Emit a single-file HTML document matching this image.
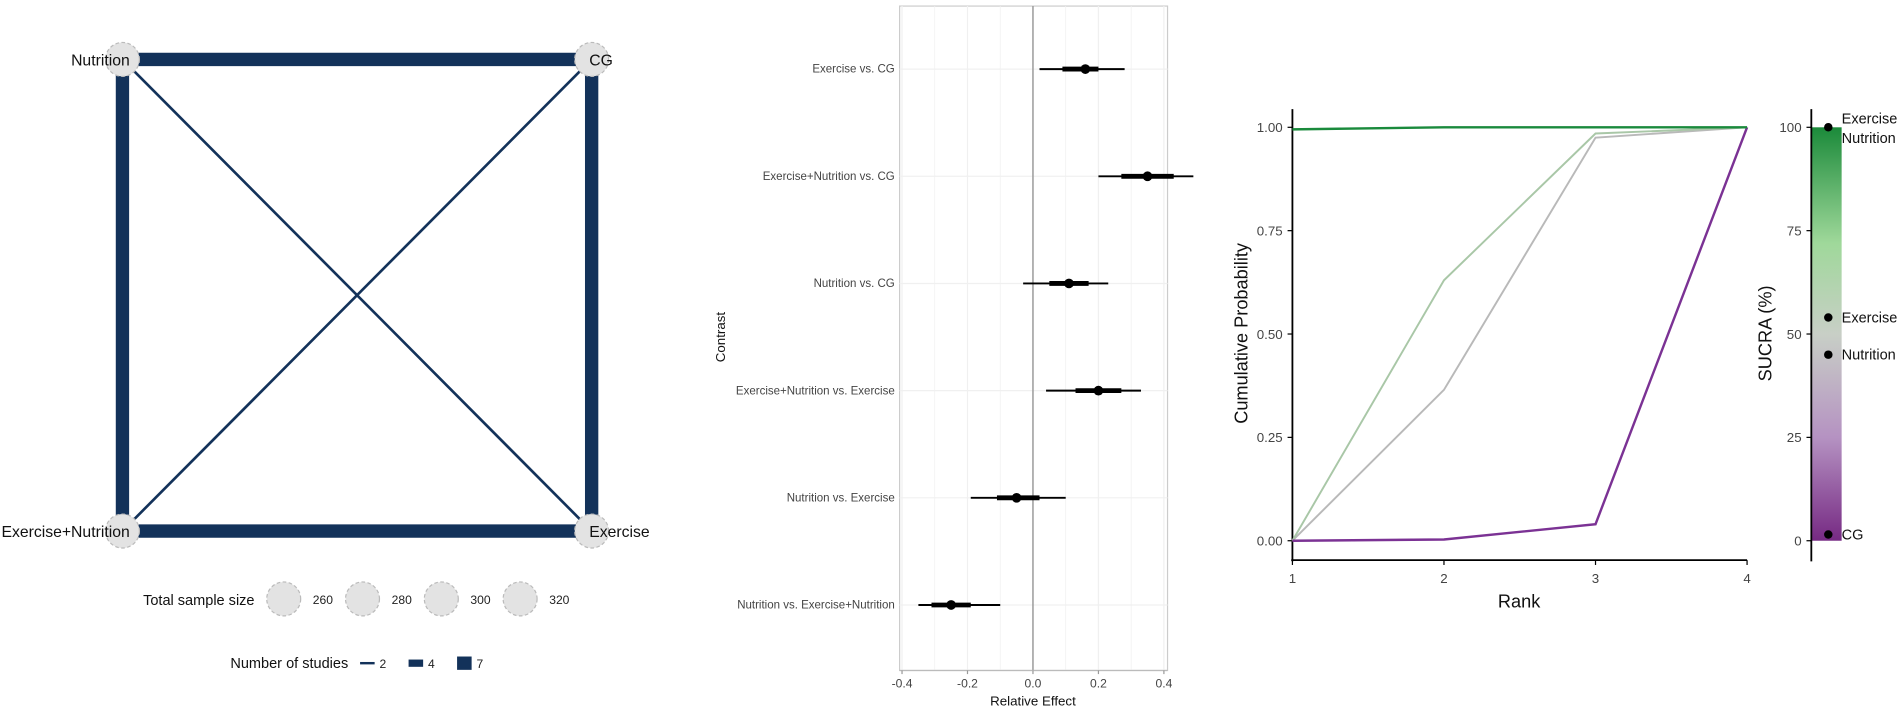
<!DOCTYPE html>
<html><head><meta charset="utf-8"><style>
body{margin:0;background:#fff;width:1901px;height:709px;overflow:hidden;font-family:"Liberation Sans",sans-serif}
svg{display:block}
</style></head><body>
<svg id="s" width="1901" height="709" xmlns="http://www.w3.org/2000/svg">
<defs>
<linearGradient id="sg" x1="0" y1="1" x2="0" y2="0">
<stop offset="0" stop-color="#762a83"/><stop offset="0.25" stop-color="#b592c2"/><stop offset="0.5" stop-color="#c8cfc6"/><stop offset="0.72" stop-color="#9fd89a"/><stop offset="1" stop-color="#1b8a3a"/>
</linearGradient>
</defs>
<g transform="scale(1.2124)">
<g id="net"></g>
<g id="forest"></g>
<g id="rank"></g>
</g>
</svg>
<script>
const NS='http://www.w3.org/2000/svg';
function mk(p,t,a,txt){const e=document.createElementNS(NS,t);for(const k in a)e.setAttribute(k,a[k]);if(txt!==undefined)e.textContent=txt;p.appendChild(e);return e;}

// ---------- Network data ----------
const nodeNames=['Nutrition','CG','Exercise+Nutrition','Exercise'];
const edgeFrom=[0,0,0,1,1,2];
const edgeTo=[1,2,3,2,3,3];
const edgeStudies=[7,7,2,2,7,7];
const net=document.getElementById('net');
const npos=[[101,49],[488,49],[101,438],[488,438]];
const sw=n=>n>=7?11:(n>=4?6:2.2);
for(let i=0;i<edgeFrom.length;i++){
  const a=npos[edgeFrom[i]],b=npos[edgeTo[i]];
  const l=mk(net,'line',{x1:a[0],y1:a[1],x2:b[0],y2:b[1],stroke:'#13325a','stroke-width':sw(edgeStudies[i])});
  
  
}
for(let i=0;i<4;i++){
  const c=mk(net,'circle',{cx:npos[i][0],cy:npos[i][1],r:14,fill:'#e3e3e3',stroke:'#bbb','stroke-dasharray':'3 2'});
  
  
  const right=i%2===1;
  const t=mk(net,'text',{x:right?npos[i][0]-2:npos[i][0]+6,y:npos[i][1]+5,'font-size':13,'text-anchor':right?'start':'end',fill:'#111'},nodeNames[i]);
  
  
}
mk(net,'text',{x:118,y:499,'font-size':12,fill:'#111',},'Total sample size');
const sizeLabels=['260','280','300','320'];
sizeLabels.forEach((s,i)=>{const x=234+i*65;
  mk(net,'circle',{cx:x,cy:494,r:14,fill:'#e3e3e3',stroke:'#bbb','stroke-dasharray':'3 2',});
  mk(net,'text',{x:x+24,y:498,'font-size':10,fill:'#222',},s);});
mk(net,'text',{x:190,y:551,'font-size':12,fill:'#111',},'Number of studies');
const stLabels=['2','4','7'];const stW=[2,6,11];
stLabels.forEach((s,i)=>{const x=297+i*40;
  mk(net,'line',{x1:x,y1:547,x2:x+12,y2:547,stroke:'#13325a','stroke-width':stW[i],});
  mk(net,'text',{x:x+16,y:551,'font-size':10,fill:'#222',},s);});

// ---------- Forest data ----------
const contrasts=['Exercise vs. CG','Exercise+Nutrition vs. CG','Nutrition vs. CG','Exercise+Nutrition vs. Exercise','Nutrition vs. Exercise','Nutrition vs. Exercise+Nutrition'];
const est=[0.16,0.35,0.11,0.20,-0.05,-0.25];
const lo95=[0.02,0.20,-0.03,0.04,-0.19,-0.35];
const hi95=[0.28,0.49,0.23,0.33,0.10,-0.10];
const lo66=[0.09,0.27,0.05,0.13,-0.11,-0.31];
const hi66=[0.20,0.43,0.17,0.27,0.02,-0.19];
const fTicks=[-0.4,-0.2,0.0,0.2,0.4];
const fx=v=>852+v*270;
const fy=i=>57+i*88.4;
const F=document.getElementById('forest');
const fB=553;
mk(F,'rect',{x:742,y:5,width:221,height:fB-5,fill:'#fff',stroke:'#ccc',});
for(let k=-4;k<=4;k++){const v=k/10;mk(F,'line',{x1:fx(v),y1:5,x2:fx(v),y2:fB,stroke:'#f0f0f0','stroke-width':k%2?0.6:1});}
contrasts.forEach((c,i)=>mk(F,'line',{x1:742,y1:fy(i),x2:963,y2:fy(i),stroke:'#f0f0f0'}));
mk(F,'line',{x1:fx(0),y1:5,x2:fx(0),y2:fB,stroke:'#999','stroke-width':1.2,});
mk(F,'line',{x1:742,y1:fB,x2:963,y2:fB,stroke:'#bbb','stroke-width':1});
fTicks.forEach(v=>{mk(F,'line',{x1:fx(v),y1:fB,x2:fx(v),y2:fB+3,stroke:'#999'});
  mk(F,'text',{x:fx(v),y:567,'font-size':10,'text-anchor':'middle',fill:'#444',},v.toFixed(1));});
contrasts.forEach((c,i)=>{const y=fy(i);
  const t=mk(F,'text',{x:738,y:y+3,'font-size':9.5,'text-anchor':'end',fill:'#444'},c);
  
  
  const l=mk(F,'line',{x1:fx(lo95[i]),y1:y,x2:fx(hi95[i]),y2:y,stroke:'#000','stroke-width':1.6});
  
  
  const l2=mk(F,'line',{x1:fx(lo66[i]),y1:y,x2:fx(hi66[i]),y2:y,stroke:'#000','stroke-width':4});
  
  
  const p=mk(F,'circle',{cx:fx(est[i]),cy:y,r:4,fill:'#000'});
  
  
});
mk(F,'text',{x:852,y:582,'font-size':11,'text-anchor':'middle',fill:'#111',},'Relative Effect');
mk(F,'text',{x:0,y:0,'font-size':11,'text-anchor':'middle',fill:'#111',transform:'translate(598,278) rotate(-90)',},'Contrast');

// ---------- Rank data ----------
const ranks=[1,2,3,4];
const treatments=['Exercise+Nutrition','Exercise','Nutrition','CG'];
const cumExNut=[0.995,1,1,1];
const cumEx=[0,0.63,0.985,1];
const cumNut=[0,0.365,0.975,1];
const cumCG=[0,0.003,0.04,1];
const sucra=[100,54,45,1.5];
const yTicks=[0,0.25,0.5,0.75,1];
const sTicks=[0,25,50,75,100];
const colors=['#1a8a3c','#a9c7a7','#b9b9b9','#7b3294'];
const rx=r=>1066+(r-1)*125;
const ry=v=>446-v*341;
const R=document.getElementById('rank');
mk(R,'line',{x1:1066,y1:90,x2:1066,y2:463,stroke:'#000','stroke-width':1.5,});
mk(R,'line',{x1:1065,y1:462,x2:1441,y2:462,stroke:'#000','stroke-width':1.5,});
yTicks.forEach(v=>{mk(R,'line',{x1:1062,y1:ry(v),x2:1066,y2:ry(v),stroke:'#000'});
  mk(R,'text',{x:1058,y:ry(v)+4,'font-size':11,'text-anchor':'end',fill:'#444',},v.toFixed(2));});
ranks.forEach(r=>{mk(R,'line',{x1:rx(r),y1:462,x2:rx(r),y2:466,stroke:'#000'});
  mk(R,'text',{x:rx(r),y:481,'font-size':11,'text-anchor':'middle',fill:'#444',},String(r));});
mk(R,'text',{x:1253,y:501,'font-size':15,'text-anchor':'middle',fill:'#111',},'Rank');
mk(R,'text',{x:0,y:0,'font-size':15,'text-anchor':'middle',fill:'#111',transform:'translate(1029,275) rotate(-90)',},'Cumulative Probability');
[cumNut,cumEx,cumCG,cumExNut].forEach((s,k)=>{const idx=[2,1,3,0][k];
  const d=s.map((v,i)=>(i?'L':'M')+rx(ranks[i])+','+ry(v)).join(' ');
  const p=mk(R,'path',{d:d,fill:'none',stroke:colors[idx],'stroke-width':idx===0||idx===3?2:1.6});
  
  
});
const sy=v=>446-v/100*341;
mk(R,'rect',{x:1494,y:sy(100),width:25,height:341,fill:'url(#sg)',});
mk(R,'line',{x1:1494,y1:90,x2:1494,y2:463,stroke:'#000','stroke-width':1.5});
sTicks.forEach(v=>{mk(R,'line',{x1:1490,y1:sy(v),x2:1494,y2:sy(v),stroke:'#000'});
  mk(R,'text',{x:1486,y:sy(v)+4,'font-size':11,'text-anchor':'end',fill:'#444',},String(v));});
mk(R,'text',{x:0,y:0,'font-size':15,'text-anchor':'middle',fill:'#111',transform:'translate(1461,275) rotate(-90)',},'SUCRA (%)');
sucra.forEach((v,i)=>{const y=sy(v);
  const c=mk(R,'circle',{cx:1508,cy:y,r:3.5,fill:'#000'});
  
  
  if(i===0){
    mk(R,'text',{x:1519,y:y-3,'font-size':12,fill:'#111',},'Exercise');
    mk(R,'text',{x:1519,y:y+13,'font-size':12,fill:'#111',},'Nutrition');
  } else {
    mk(R,'text',{x:1519,y:y+4,'font-size':12,fill:'#111',},treatments[i]);
  }
});
</script>
</body></html>
